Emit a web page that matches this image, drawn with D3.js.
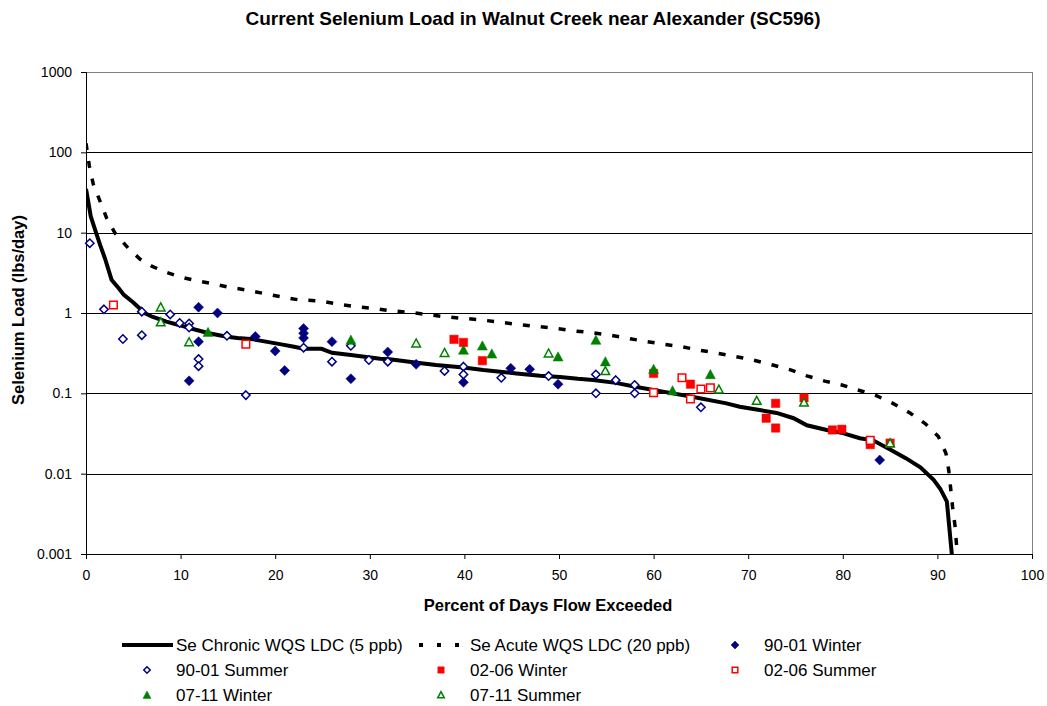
<!DOCTYPE html>
<meta charset="utf-8">
<style type="text/css">
body { margin: 0; background: #fff; }
svg { font-family: "Liberation Sans", Arial, sans-serif; }
text.title { font-size: 19px; font-weight: bold; }
text.axis-title { font-size: 16.5px; font-weight: bold; }
.tick text { font-size: 14px; fill: #000; }
.legend text { font-size: 17px; }
.chronic { fill: none; stroke: #000; stroke-width: 4; }
.acute { fill: none; stroke: #000; stroke-width: 3.5; stroke-dasharray: 7,11; }
</style>
<body>
<svg></svg>
</body>
<script src="https://d3js.org/d3.v7.min.js"></script>
<script>

// load duration curves: [percent of days flow exceeded, lbs/day]
let chronicLDC = [
  [0, 35], [0.3, 22], [0.5, 16], [1, 10.5], [1.5, 7], [2, 4.8], [2.7, 2.6], [3.5, 2.0],
  [4, 1.68], [5, 1.35], [6.2, 1.0], [7, 0.9], [8.5, 0.78], [10, 0.7], [11, 0.645],
  [13, 0.56], [14.9, 0.507], [16, 0.49], [17.7, 0.47], [19, 0.44], [20.5, 0.41],
  [22, 0.38], [23, 0.36], [24.9, 0.358], [26, 0.32], [28, 0.3], [31.1, 0.27],
  [32.1, 0.265], [35, 0.24], [37, 0.225], [39.9, 0.21], [42, 0.195], [45.5, 0.177],
  [48, 0.165], [50.1, 0.16], [52, 0.152], [53.6, 0.147], [56, 0.135], [58.2, 0.12],
  [61, 0.105], [64.2, 0.09], [67.7, 0.075], [69.1, 0.068], [71.2, 0.062], [73, 0.057],
  [74.8, 0.049], [76.2, 0.04], [78.3, 0.035], [80, 0.032], [81.8, 0.0276], [83.2, 0.026],
  [85, 0.02], [86.7, 0.0155], [88.2, 0.012], [89.6, 0.0084], [90.3, 0.0065],
  [91.0, 0.0045], [91.6, 0.0008]
];

let acuteLDC = [
  [0, 130], [0.35, 68], [0.77, 40], [1.5, 24.4], [2.2, 15], [3.07, 9.85], [4.47, 6.4],
  [5.7, 4.7], [7, 3.8], [8.5, 3.2], [10, 2.8], [11.3, 2.58], [13.5, 2.3], [15, 2.1],
  [17, 1.93], [19.1, 1.72], [20.9, 1.57], [22.6, 1.45], [24.6, 1.42], [26.5, 1.3],
  [28.4, 1.2], [30.4, 1.14], [32, 1.07], [34.2, 1.02], [37.9, 0.9], [41.8, 0.82],
  [45.7, 0.72], [49.6, 0.645], [51.5, 0.6], [53.5, 0.57], [55.4, 0.53], [57, 0.49],
  [59.3, 0.44], [61, 0.41], [63, 0.38], [64.5, 0.35], [66.8, 0.315], [68.5, 0.29],
  [70.5, 0.26], [72.6, 0.225], [74.4, 0.197], [76.2, 0.165], [78.1, 0.142],
  [79.9, 0.127], [81.6, 0.11], [83.6, 0.093], [85.3, 0.075], [87.1, 0.057],
  [88.7, 0.042], [90.1, 0.029], [90.9, 0.018], [91.2, 0.011], [91.4, 0.0066],
  [91.6, 0.0039], [91.85, 0.0023], [92.0, 0.0014], [92.2, 0.0008]
];

// observed loads
let winter9001 = [
  [10.9, 0.143], [11.9, 1.18], [11.9, 0.44], [13.9, 1.0], [17.9, 0.51], [20, 0.336],
  [21, 0.193], [23, 0.64], [23, 0.56], [23, 0.49], [26, 0.44], [28, 0.152],
  [31.9, 0.327], [34.9, 0.23], [39.9, 0.137], [44.9, 0.205], [46.9, 0.199],
  [49.9, 0.13], [83.9, 0.0148]
];
let summer9001 = [
  [0.4, 7.4], [1.9, 1.11], [3.9, 0.475], [5.9, 1.04], [5.9, 0.53], [8.9, 0.96],
  [9.9, 0.75], [10.9, 0.74], [10.9, 0.66], [11.9, 0.267], [11.9, 0.218], [14.9, 0.52],
  [16.9, 0.095], [23, 0.37], [26, 0.248], [28, 0.39], [29.9, 0.26], [31.9, 0.248],
  [37.9, 0.19], [39.9, 0.215], [39.9, 0.172], [43.9, 0.156], [48.9, 0.164],
  [53.9, 0.172], [53.9, 0.1], [56, 0.146], [58, 0.127], [58, 0.1], [65, 0.067]
];
let winter0206 = [
  [38.9, 0.47], [39.9, 0.43], [41.9, 0.255], [60, 0.177], [63.9, 0.13], [71.9, 0.049],
  [72.9, 0.075], [72.9, 0.037], [75.9, 0.088], [78.9, 0.035], [79.9, 0.0357],
  [82.9, 0.023], [85, 0.024]
];
let summer0206 = [
  [2.9, 1.26], [16.9, 0.41], [60, 0.102], [63, 0.156], [63.9, 0.085], [65, 0.113],
  [66, 0.117], [82.9, 0.026]
];
let winter0711 = [
  [12.9, 0.575], [28, 0.46], [39.9, 0.346], [41.9, 0.39], [42.9, 0.31], [49.9, 0.285],
  [53.9, 0.46], [54.9, 0.248], [60, 0.2], [62, 0.108], [66, 0.172]
];
let summer0711 = [
  [7.9, 1.18], [7.9, 0.77], [10.9, 0.435], [34.9, 0.42], [37.9, 0.32], [48.9, 0.315],
  [54.9, 0.19], [66.9, 0.112], [70.9, 0.081], [75.9, 0.077], [85, 0.024]
];

let yTicks = [1000, 100, 10, 1, 0.1, 0.01, 0.001];
let xTicks = [0, 10, 20, 30, 40, 50, 60, 70, 80, 90, 100];

let titleText = 'Current Selenium Load in Walnut Creek near Alexander (SC596)';
let xTitleText = 'Percent of Days Flow Exceeded';
let yTitleText = 'Selenium Load (lbs/day)';

var margin = {top: 72, right: 15, bottom: 152, left: 86},
    svgWidth = 1047,
    svgHeight = 706,
    width = svgWidth - margin.left - margin.right,
    height = svgHeight - margin.top - margin.bottom;

var navy = '#000080', red = '#ff0000', green = '#008000';

var xScale = d3.scaleLinear().domain([0, 100]).range([0, width]);
var yScale = d3.scaleLog().domain([0.001, 1000]).range([height, 0]);

var svg = d3.select('svg')
    .attr('width', svgWidth)
    .attr('height', svgHeight);

svg.append('text')
    .attr('class', 'title')
    .attr('x', 533)
    .attr('y', 25)
    .attr('text-anchor', 'middle')
    .text(titleText);

var g = svg.append('g')
    .attr('transform', 'translate(' + margin.left + ',' + margin.top + ')');

g.append('clipPath').attr('id', 'plot-clip')
  .append('rect').attr('width', width).attr('height', height);

// horizontal gridlines
g.selectAll('line.grid')
    .data(yTicks)
    .enter().append('line')
    .attr('class', 'grid')
    .attr('x1', 0).attr('x2', width)
    .attr('y1', d => Math.round(yScale(d)) + 0.5)
    .attr('y2', d => Math.round(yScale(d)) + 0.5)
    .attr('stroke', d => d === 1000 ? '#808080' : '#000')
    .attr('stroke-width', 1);

// plot border (right side)
g.append('line')
    .attr('x1', width + 0.5).attr('x2', width + 0.5)
    .attr('y1', 0).attr('y2', height)
    .attr('stroke', '#808080');

// axes
var yAxis = g.append('g')
    .call(d3.axisLeft(yScale).tickValues(yTicks).tickSize(5).tickPadding(9)
      .tickFormat(d => String(d)));
var xAxis = g.append('g')
    .attr('transform', 'translate(0,' + height + ')')
    .call(d3.axisBottom(xScale).tickValues(xTicks).tickSize(5).tickPadding(11)
      .tickFormat(d3.format('d')));

[yAxis, xAxis].forEach(function(a) {
  a.select('.domain').attr('stroke', '#000');
  a.selectAll('.tick line').attr('stroke', '#000');
  a.selectAll('.tick text').style('font-family', '"Liberation Sans", Arial, sans-serif');
});

svg.append('text')
    .attr('class', 'axis-title')
    .attr('x', 548)
    .attr('y', 611)
    .attr('text-anchor', 'middle')
    .text(xTitleText);

svg.append('text')
    .attr('class', 'axis-title')
    .attr('transform', 'translate(24,' + (margin.top + height / 2 - 3) + ') rotate(-90)')
    .attr('text-anchor', 'middle')
    .text(yTitleText);

// load duration curves
var line = d3.line()
    .x(d => xScale(d[0]))
    .y(d => yScale(d[1]));

var curves = g.append('g').attr('clip-path', 'url(#plot-clip)');
curves.append('path').datum(chronicLDC).attr('class', 'chronic').attr('d', line);
curves.append('path').datum(acuteLDC).attr('class', 'acute').attr('d', line);

// marker shapes
function diamond(s) {
  return 'M0,' + (-s) + 'L' + s + ',0L0,' + s + 'L' + (-s) + ',0Z';
}
function square(s) {
  return 'M' + (-s) + ',' + (-s) + 'H' + s + 'V' + s + 'H' + (-s) + 'Z';
}
function triangle(s) {
  return 'M0,' + (-s) + 'L' + s + ',' + (s * 0.85) + 'H' + (-s) + 'Z';
}

var series = [
  {name: '90-01 Winter', data: winter9001, shape: diamond, size: 5, color: navy, filled: true},
  {name: '90-01 Summer', data: summer9001, shape: diamond, size: 4.2, color: navy, filled: false},
  {name: '02-06 Winter', data: winter0206, shape: square, size: 4.2, color: red, filled: true},
  {name: '02-06 Summer', data: summer0206, shape: square, size: 3.8, color: red, filled: false},
  {name: '07-11 Winter', data: winter0711, shape: triangle, size: 5, color: green, filled: true},
  {name: '07-11 Summer', data: summer0711, shape: triangle, size: 4.3, color: green, filled: false}
];

function styleMarker(sel, s) {
  sel.attr('fill', s.filled ? s.color : '#fff')
     .attr('stroke', s.color)
     .attr('stroke-width', s.filled ? 0.5 : 1.5);
}

series.forEach(function(s) {
  g.append('g').selectAll('path')
    .data(s.data)
    .enter().append('path')
    .attr('transform', d => 'translate(' + xScale(d[0]) + ',' + yScale(d[1]) + ')')
    .attr('d', s.shape(s.size))
    .call(styleMarker, s);
});

// legend
var legend = svg.append('g').attr('class', 'legend');
var colX = [176, 470, 764], rowY = [645, 670, 695];

var legendItems = [
  {name: 'Se Chronic WQS LDC (5 ppb)', kind: 'chronic'},
  {name: 'Se Acute WQS LDC (20 ppb)', kind: 'acute'}
].concat(series);

legendItems.forEach(function(item, i) {
  var cx = colX[i % 3], cy = rowY[Math.floor(i / 3)];
  if (item.kind === 'chronic') {
    legend.append('line')
      .attr('x1', cx - 54).attr('x2', cx - 3).attr('y1', cy).attr('y2', cy)
      .attr('stroke', '#000').attr('stroke-width', 4);
  } else if (item.kind === 'acute') {
    legend.append('line')
      .attr('x1', cx - 51).attr('x2', cx - 11).attr('y1', cy).attr('y2', cy)
      .attr('stroke', '#000').attr('stroke-width', 4).attr('stroke-dasharray', '4,14');
  } else {
    legend.append('path')
      .attr('transform', 'translate(' + (cx - 29) + ',' + cy + ')')
      .attr('d', item.shape(item.size - 1))
      .call(styleMarker, item);
  }
  legend.append('text')
    .attr('x', cx)
    .attr('y', cy)
    .attr('dy', '0.36em')
    .text(item.name);
});

</script>
